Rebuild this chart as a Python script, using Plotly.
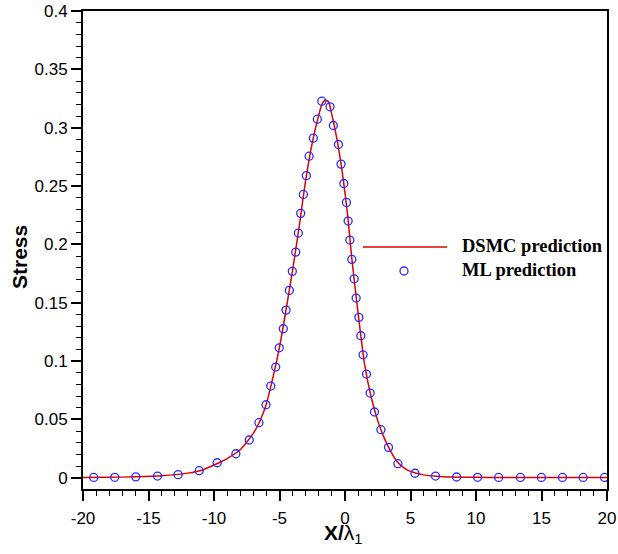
import plotly.graph_objects as go

# DSMC prediction (continuous curve)
dsmc_x = [-20, -18, -16, -14, -12, -11, -10, -9, -8, -7, -6.5, -6, -5.5, -5, -4.5, -4,
          -3.5, -3, -2.5, -2, -1.75, -1.5, -1.25, -1, -0.75, -0.5, -0.25, 0, 0.25, 0.5,
          0.75, 1, 1.5, 2, 2.5, 3, 3.5, 4, 4.5, 5, 6, 7, 8, 10, 12, 15, 20]
dsmc_y = [0.0002, 0.0004, 0.0008, 0.0017, 0.0040, 0.0062, 0.0110, 0.0165, 0.0240, 0.0380,
          0.0485, 0.0635, 0.0860, 0.1120, 0.1440, 0.1780, 0.2150, 0.2550, 0.2870, 0.3110,
          0.3205, 0.3238, 0.3220, 0.3110, 0.2980, 0.2830, 0.2650, 0.2440, 0.2200, 0.1900,
          0.1650, 0.1410, 0.0970, 0.0690, 0.0490, 0.0340, 0.0225, 0.0135, 0.0085, 0.0055,
          0.0025, 0.0013, 0.0007, 0.0004, 0.0003, 0.0002, 0.0002]

# ML prediction (markers)
ml_x = [-19.18, -17.58, -15.97, -14.31, -12.74, -11.13, -9.76, -8.33, -7.31, -6.57, -6.03,
        -5.67, -5.29, -5.02, -4.71, -4.50, -4.25, -4.02, -3.76, -3.56, -3.38, -3.18, -2.95,
        -2.74, -2.42, -2.11, -1.77, -1.14, -0.89, -0.50, -0.30, -0.09, 0.11, 0.24, 0.37,
        0.52, 0.70, 0.85, 1.06, 1.21, 1.38, 1.64, 1.92, 2.25, 2.74, 3.32, 4.04, 5.34, 6.91,
        8.52, 10.12, 11.73, 13.39, 14.99, 16.60, 18.18, 19.81]
ml_y = [0.0003, 0.0004, 0.0008, 0.0015, 0.0027, 0.0061, 0.0129, 0.0206, 0.0324, 0.0472,
        0.0626, 0.0786, 0.0949, 0.1114, 0.1277, 0.1437, 0.1606, 0.1769, 0.1934, 0.2097,
        0.2266, 0.2428, 0.2589, 0.2756, 0.2911, 0.3073, 0.3227, 0.3179, 0.3019, 0.2856,
        0.2688, 0.2522, 0.2360, 0.2200, 0.2037, 0.1872, 0.1705, 0.1540, 0.1375, 0.1217,
        0.1054, 0.0889, 0.0726, 0.0564, 0.0412, 0.0261, 0.0121, 0.0039, 0.0015, 0.0007,
        0.0004, 0.0003, 0.0003, 0.0003, 0.0003, 0.0003, 0.0003]

x_tickvals = [-20, -15, -10, -5, 0, 5, 10, 15, 20]
x_ticktext = ["-20", "-15", "-10", "-5", "0", "5", "10", "15", "20"]
y_tickvals = [0, 0.05, 0.1, 0.15, 0.2, 0.25, 0.3, 0.35, 0.4]
y_ticktext = ["0", "0.05", "0.1", "0.15", "0.2", "0.25", "0.3", "0.35", "0.4"]

legend_labels = ["DSMC prediction", "ML prediction"]
x_title = "<b>X/</b>λ<sub>1</sub>"
y_title = "<b>Stress</b>"
line_color = "#e00000"
marker_color = "#2a2aff"

fig = go.Figure()
fig.add_trace(go.Scatter(x=dsmc_x, y=dsmc_y, mode="lines", name=legend_labels[0],
                         line=dict(color=line_color, width=1.5, shape="spline", smoothing=0.6),
                         showlegend=False))
fig.add_trace(go.Scatter(x=ml_x, y=ml_y, mode="markers", name=legend_labels[1],
                         marker=dict(symbol="circle-open", size=8, color=marker_color,
                                     line=dict(width=1.3, color=marker_color)),
                         showlegend=False))

tick_font = dict(family="Liberation Sans, Arial, sans-serif", size=17, color="black")
axis_common = dict(showline=True, linewidth=2, linecolor="black", mirror=True,
                   ticks="outside", ticklen=10, tickwidth=2, tickcolor="black",
                   showgrid=False, zeroline=False, tickfont=tick_font, automargin=False)

fig.update_layout(
    width=618, height=554,
    margin=dict(l=83, r=11, t=11, b=65),
    paper_bgcolor="white", plot_bgcolor="white",
    xaxis=dict(range=[-20, 20], tickvals=x_tickvals, ticktext=x_ticktext,
               ticklabelstandoff=3,
               minor=dict(dtick=1, tick0=0, ticks="outside", ticklen=5, tickwidth=1,
                          tickcolor="black"),
               **axis_common),
    yaxis=dict(range=[-0.0096, 0.4], tickvals=y_tickvals, ticktext=y_ticktext,
               minor=dict(dtick=0.01, tick0=0, ticks="outside", ticklen=5, tickwidth=1,
                          tickcolor="black"),
               **axis_common),
)

# pixel -> paper helpers for placing titles / legend
def px_x(p):
    return (p - 83.0) / 524.0

def px_y(p):
    return (489 - p) / 478

title_font = dict(family="Liberation Sans, Arial, sans-serif", size=21, color="black")
fig.add_annotation(xref="paper", yref="paper", x=px_x(343), y=px_y(534),
                   xanchor="center", yanchor="middle", showarrow=False,
                   text=x_title, font=title_font)
fig.add_annotation(xref="paper", yref="paper", x=px_x(19), y=px_y(257),
                   xanchor="center", yanchor="middle", showarrow=False, textangle=-90,
                   text=y_title, font=title_font)

# Manual legend (to match long legend line)
fig.add_shape(type="line", xref="paper", yref="paper",
              x0=px_x(363), x1=px_x(447), y0=px_y(247), y1=px_y(247),
              line=dict(color=line_color, width=1.5))
fig.add_shape(type="circle", xref="paper", yref="paper",
              xsizemode="pixel", ysizemode="pixel",
              xanchor=px_x(404), yanchor=px_y(271),
              x0=-4, x1=4, y0=-4, y1=4,
              line=dict(color=marker_color, width=1.3))
legend_font = dict(family="Liberation Serif, Times New Roman, serif", size=18.5, color="black")
fig.add_annotation(xref="paper", yref="paper", x=px_x(460), y=px_y(246),
                   xanchor="left", yanchor="middle", showarrow=False,
                   text="<b>" + legend_labels[0] + "</b>", font=legend_font)
fig.add_annotation(xref="paper", yref="paper", x=px_x(460), y=px_y(270),
                   xanchor="left", yanchor="middle", showarrow=False,
                   text="<b>" + legend_labels[1] + "</b>", font=legend_font)

fig.write_html("out.html", config={"displayModeBar": False},
               post_script="document.body.style.margin='0';document.body.style.overflow='hidden';")
